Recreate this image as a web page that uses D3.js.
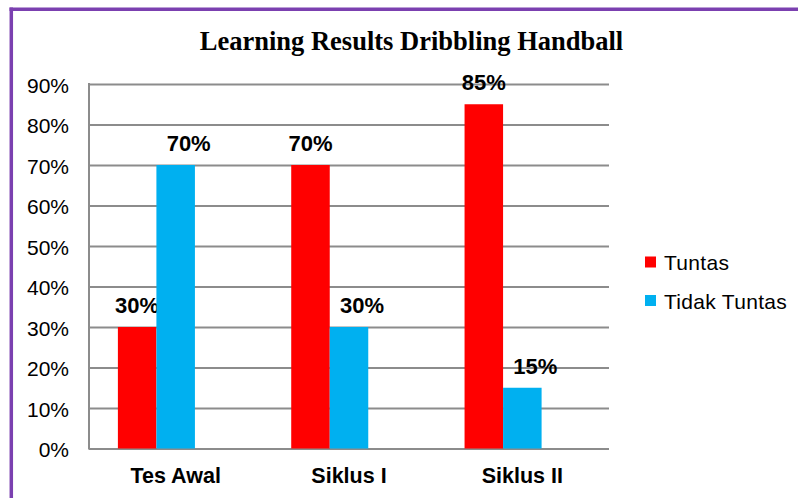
<!DOCTYPE html>
<html>
<head>
<meta charset="utf-8">
<script src="https://cdn.jsdelivr.net/npm/d3@7"></script>
<style>
  body { margin: 0; background: #fff; }
  svg { display: block; }
</style>
</head>
<body>
<script>
// chart data
var categories = ['Tes Awal', 'Siklus I', 'Siklus II'];
var seriesNames = ['Tuntas', 'Tidak Tuntas'];
var tuntas = [30, 70, 85];
var tidakTuntas = [70, 30, 15];
var yTicks = [0, 10, 20, 30, 40, 50, 60, 70, 80, 90];
var title = 'Learning Results Dribbling Handball';

var colors = ['#ff0000', '#00b0f0'];
var W = 798, H = 498;
var plot = {left: 89, right: 609, top: 84, bottom: 448.5};

var svg = d3.select('body').append('svg')
    .attr('width', W)
    .attr('height', H);

// purple frame (top and left only, like the cropped original)
svg.append('line')
    .attr('x1', 9.5).attr('x2', W).attr('y1', 9.3).attr('y2', 9.3)
    .attr('stroke', '#7b40b0').attr('stroke-width', 3.5);
svg.append('line')
    .attr('x1', 11.3).attr('x2', 11.3).attr('y1', 7.6).attr('y2', H)
    .attr('stroke', '#7b40b0').attr('stroke-width', 3.5);

svg.append('text')
    .attr('x', 411.5).attr('y', 50)
    .attr('text-anchor', 'middle')
    .style('font-family', '"Liberation Serif", "Times New Roman", serif')
    .style('font-weight', 'bold')
    .style('font-size', '26.5px')
    .text(title);

var y = d3.scaleLinear().domain([0, 90]).range([plot.bottom, plot.top]);
var x0 = d3.scaleBand().domain(categories).range([plot.left, plot.right]);
var bw = x0.bandwidth();
// excel keeps a third (empty) slot in each group, so bars sit left of centre
var x1 = d3.scaleBand().domain([0, 1, 2]).range([bw / 6, bw * 5 / 6]);

var axisY = d3.axisLeft(y)
    .tickValues(yTicks)
    .tickSize(-(plot.right - plot.left))
    .tickPadding(20)
    .tickFormat(function(d) { return d + '%'; });

var $y = svg.append('g')
    .attr('class', 'y axis')
    .attr('transform', 'translate(' + plot.left + ',0)')
    .call(axisY);
$y.select('.domain').remove();
$y.selectAll('.tick line')
    .attr('stroke', '#8c8c8c')
    .attr('stroke-width', 2);
$y.selectAll('.tick text')
    .attr('dy', '0.4em')
    .style('font-family', '"Liberation Sans", Arial, sans-serif')
    .style('font-size', '21px')
    .attr('fill', '#000');

svg.append('line')
    .attr('x1', plot.left).attr('x2', plot.left)
    .attr('y1', plot.top - 1).attr('y2', plot.bottom + 1)
    .attr('stroke', '#8c8c8c').attr('stroke-width', 2);

var series = [tuntas, tidakTuntas];
var labelShift = [0, 13];

series.forEach(function(values, si) {
    var g = svg.append('g').attr('class', 'series s' + si);
    g.selectAll('rect')
        .data(values)
        .enter().append('rect')
        .attr('x', function(d, i) { return x0(categories[i]) + x1(si); })
        .attr('width', x1.bandwidth())
        .attr('y', function(d) { return y(d); })
        .attr('height', function(d) { return y(0) - y(d); })
        .attr('fill', colors[si]);

    g.selectAll('text')
        .data(values)
        .enter().append('text')
        .attr('x', function(d, i) { return x0(categories[i]) + x1(si) + x1.bandwidth() / 2 + labelShift[si]; })
        .attr('y', function(d) { return y(d) - 14; })
        .attr('text-anchor', 'middle')
        .style('font-family', '"Liberation Sans", Arial, sans-serif')
        .style('font-weight', 'bold')
        .style('font-size', '22px')
        .text(function(d) { return d + '%'; });
});

// category labels
svg.append('g').selectAll('text')
    .data(categories)
    .enter().append('text')
    .attr('x', function(d) { return x0(d) + bw / 2; })
    .attr('y', 483)
    .attr('text-anchor', 'middle')
    .style('font-family', '"Liberation Sans", Arial, sans-serif')
    .style('font-weight', 'bold')
    .style('font-size', '21.5px')
    .text(function(d) { return d; });

// legend
var legend = svg.append('g')
    .attr('transform', 'translate(645,262)');
var item = legend.selectAll('g')
    .data(seriesNames)
    .enter().append('g')
    .attr('transform', function(d, i) { return 'translate(0,' + (i * 38.5) + ')'; });
item.append('rect')
    .attr('x', 0).attr('y', -5.5)
    .attr('width', 11).attr('height', 11)
    .attr('fill', function(d, i) { return colors[i]; });
item.append('text')
    .attr('x', 19).attr('y', 8)
    .style('font-family', '"Liberation Sans", Arial, sans-serif')
    .style('font-size', '21px')
    .style('letter-spacing', '0.3px')
    .text(function(d) { return d; });
</script>
</body>
</html>
